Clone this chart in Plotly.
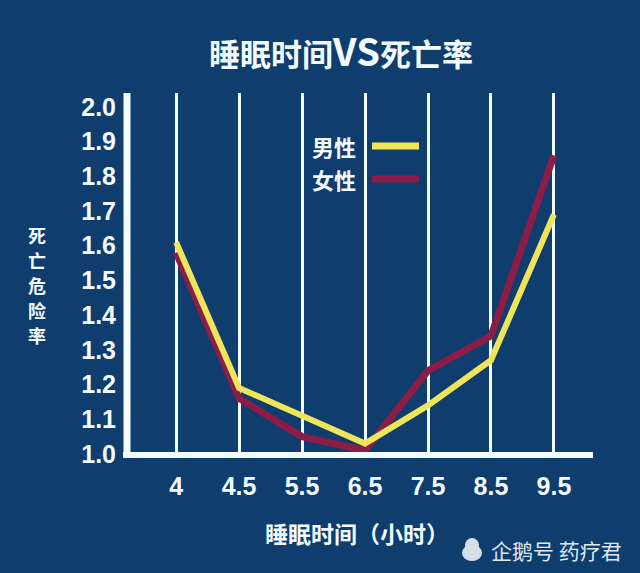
import plotly.graph_objects as go

# ---- data ----
categories = ["4", "4.5", "5.5", "6.5", "7.5", "8.5", "9.5"]
male = [1.61, 1.19, 1.11, 1.03, 1.14, 1.27, 1.69]
female = [1.58, 1.16, 1.05, 1.01, 1.24, 1.34, 1.86]
series_names = ["男性", "女性"]
title_parts = ["睡眠时间", "VS", "死亡率"]
y_title = "死亡危险率"
x_title = "睡眠时间（小时）"
watermark = "企鹅号 药疗君"

BG = "#0f3d6e"
YELLOW = "#efe55a"
RED = "#8c1d47"
WHITE = "#f2fbff"
FONT = "Noto Sans CJK SC"

W, H = 640, 573
ML, MR, MT, MB = 127, 47, 93, 118
pw = W - ML - MR
ph = H - MT - MB


def px_x(x):
    return (x - ML) / pw


def px_y(y):
    return 1 - (y - MT) / ph


fig = go.Figure()
fig.add_trace(go.Scatter(x=categories, y=female, mode="lines", name=series_names[1],
                         line=dict(color=RED, width=7), showlegend=False))
fig.add_trace(go.Scatter(x=categories, y=male, mode="lines", name=series_names[0],
                         line=dict(color=YELLOW, width=6), showlegend=False))

title_html = (title_parts[0] + "<span style='font-size:38px'>" + title_parts[1] + "</span>"
              + title_parts[2])

fig.update_layout(
    width=W, height=H,
    margin=dict(l=ML, r=MR, t=MT, b=MB),
    paper_bgcolor=BG, plot_bgcolor=BG,
    font=dict(family=FONT, color=WHITE),
    title=dict(text=title_html, x=341 / W, xanchor="center", y=1 - 55 / H, yanchor="middle",
               font=dict(size=31, color=WHITE, family=FONT, weight="bold")),
    showlegend=False,
)

fig.update_xaxes(
    type="category", range=[-0.78, 6.62],
    showgrid=True, gridcolor=WHITE, gridwidth=3,
    showline=False, zeroline=False, ticks="",
    tickfont=dict(size=25, color=WHITE, family="Liberation Sans", weight="bold"),
    ticklabelstandoff=14,
)
fig.update_yaxes(
    range=[0.997, 2.04], dtick=0.1, tick0=1.0, tickformat=".1f",
    showgrid=False, showline=False, zeroline=False, ticks="",
    tickfont=dict(size=25, color=WHITE, family="Liberation Sans", weight="bold"),
    ticklabelstandoff=10,
)

# axis lines
fig.add_shape(type="line", xref="paper", yref="paper", x0=0, x1=0, y0=-3 / ph, y1=1,
              line=dict(color=WHITE, width=7), layer="above")
fig.add_shape(type="line", xref="paper", yref="paper", x0=-4 / pw, x1=1, y0=0, y1=0,
              line=dict(color=WHITE, width=6), layer="above")

# legend (text then line)
leg = [(series_names[0], YELLOW, 146), (series_names[1], RED, 179)]
for name, col, ypx in leg:
    fig.add_annotation(xref="paper", yref="paper", x=px_x(358), y=px_y(ypx),
                       xanchor="right", yanchor="middle", text=name, showarrow=False,
                       font=dict(size=22, color=WHITE, family=FONT, weight="bold"))
    fig.add_shape(type="line", xref="paper", yref="paper",
                  x0=px_x(372), x1=px_x(419), y0=px_y(ypx), y1=px_y(ypx),
                  line=dict(color=col, width=7))

# y-axis title (vertical stacked, one char each)
for i, ch in enumerate(y_title):
    fig.add_annotation(xref="paper", yref="paper", x=px_x(37), y=px_y(235 + 25 * i),
                       xanchor="center", yanchor="middle", text=ch, showarrow=False,
                       borderpad=0,
                       font=dict(size=18, color=WHITE, family=FONT, weight="bold"))

# x-axis title
fig.add_annotation(xref="paper", yref="paper", x=px_x(357), y=px_y(533),
                   xanchor="center", yanchor="middle", text=x_title, showarrow=False,
                   font=dict(size=23, color=WHITE, family=FONT, weight="bold"))

# watermark
fig.add_annotation(xref="paper", yref="paper", x=px_x(624), y=px_y(550),
                   xanchor="right", yanchor="middle", text=watermark, showarrow=False,
                   font=dict(size=21, color="#dfe8f2", family=FONT))
# small penguin-like icon
fig.add_shape(type="circle", xref="paper", yref="paper",
              x0=px_x(465), x1=px_x(479), y0=px_y(553), y1=px_y(538),
              fillcolor="#d8dee6", line=dict(width=0))
fig.add_shape(type="circle", xref="paper", yref="paper",
              x0=px_x(462), x1=px_x(482), y0=px_y(561), y1=px_y(545),
              fillcolor="#d8dee6", line=dict(width=0))

fig.write_html("out.html", config={"displayModeBar": False},
               post_script="document.body.style.margin='0';document.body.style.padding='0';"
                           "document.body.style.background='#0f3d6e';")
